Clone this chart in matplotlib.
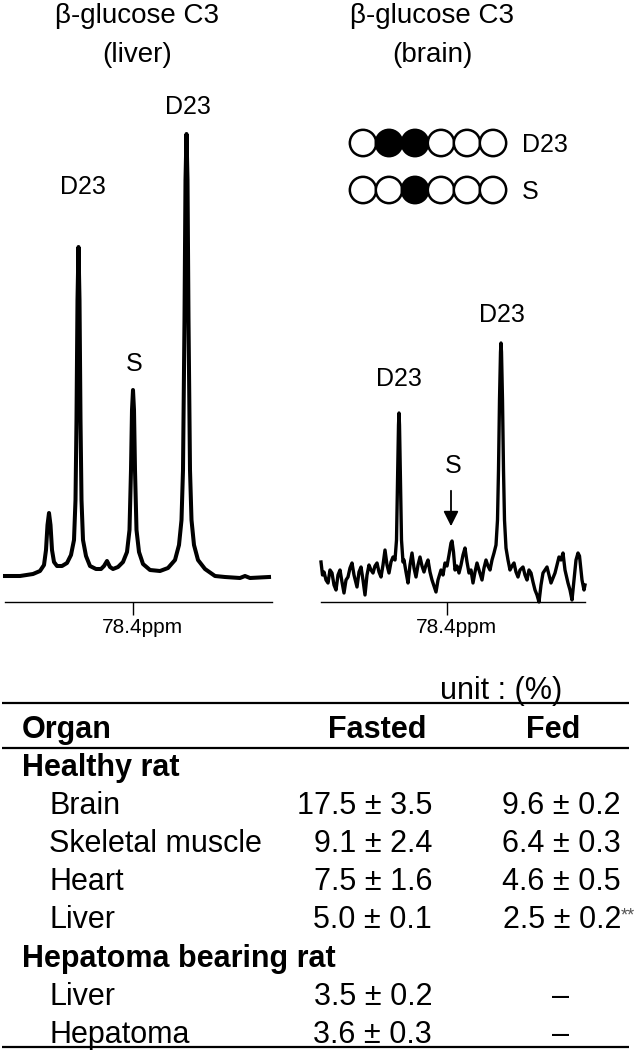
import matplotlib
matplotlib.use("Agg")
import matplotlib.pyplot as plt

plt.rcParams['font.family'] = ['Liberation Sans', 'DejaVu Sans']

# ---- spectra (shift from 78.4 ppm tick, intensity above baseline axis) ----
liver_shift = [-128, -113, -100, -93, -89, -87, -85.5, -84, -82.5, -81, -79, -76, -71, -66, -62, -59,
               -57.5, -56.5, -55.5, -54.5, -53.5, -52.5, -51.5, -50, -47, -43, -37, -32, -29, -26, -23,
               -20, -15, -10, -6, -3.5, -2, -1, 0, 1, 2, 3.5, 6, 10, 17, 27, 35, 42, 46, 48.5, 50, 51.5,
               52.5, 53.5, 54.5, 55.5, 57, 58.5, 61, 65, 72, 82, 92, 107, 112, 117, 136]
liver_int = [26, 26, 28, 31, 37, 52, 77, 89, 77, 52, 40, 36, 36, 39, 47, 62,
             102, 182, 302, 355, 302, 182, 102, 62, 46, 36, 33, 33, 36, 41, 35,
             33, 35, 40, 50, 72, 132, 192, 212, 192, 132, 72, 50, 38, 32, 31, 34, 42, 57, 82, 132, 282,
             422, 468, 422, 282, 132, 82, 57, 42, 33, 26, 25, 24, 26, 24, 25]

brain_shift = [-126, -124.5, -123, -121, -119, -117, -115, -113, -111, -109, -107, -105, -103, -101, -99,
               -97, -95, -93, -90, -88, -86, -84, -82, -80, -78, -76, -74, -72, -70, -68, -66, -64, -62,
               -60, -58, -56, -54, -52, -50.5, -49.5, -48.5, -48, -47.5, -46.5, -45.5, -44, -43, -41, -39,
               -37, -35, -33, -31, -29, -27, -25, -23, -21, -19, -17, -15, -13, -11, -9, -6, -4, -2, 0,
               2, 4, 5, 6.5, 8, 10, 12, 14, 16, 18, 20, 22, 24, 26, 28, 30, 32, 35, 37, 39, 41, 43, 45,
               47, 49, 50.5, 51.5, 52.5, 53.5, 54, 54.5, 55.5, 56.5, 57.5, 59, 61, 63, 65, 67, 69, 71,
               73, 76, 78, 80, 82, 84, 86, 88, 90, 92, 94, 96, 98, 100, 102, 104, 106, 108, 110, 112,
               114, 116, 118, 121, 123, 125, 127, 129, 131, 132.5, 135, 137, 138]
brain_int = [40, 27, 30, 22, 19, 32, 29, 17, 12, 27, 32, 20, 9, 22, 25,
             34, 39, 27, 15, 30, 35, 22, 7, 27, 37, 32, 29, 36, 39, 30, 25, 37, 52,
             37, 29, 40, 45, 42, 62, 122, 177, 189, 177, 122, 62, 40, 42, 30, 19,
             37, 49, 34, 25, 37, 45, 36, 30, 37, 42, 30, 22, 16, 10, 22, 32, 27, 39, 36,
             47, 59, 61, 50, 32, 36, 29, 37, 47, 54, 40, 29, 32, 19, 30, 39, 32, 22, 34, 42, 36, 32, 42,
             49, 57, 82, 132, 202, 250, 259, 250, 202, 132, 82, 54, 42, 32, 36, 39, 30, 25,
             32, 35, 27, 22, 32, 29, 20, 12, 7, 0, 17, 29, 32, 35, 27, 19, 24, 29, 37, 45,
             42, 49, 32, 19, 12, 2, 22, 42, 49, 46, 22, 12, 17]

tick_label = "78.4ppm"
titles = [("β-glucose C3", "(liver)"), ("β-glucose C3", "(brain)")]
liver_labels = [("D23", -50, 408), ("D23", 55, 488), ("S", 1, 231)]
brain_labels = [("D23", -48, 216), ("D23", 55, 280), ("S", 6, 129)]

# labelling pattern (filled = 13C)
pattern_names = ["D23", "S"]
pattern_fill = [[0, 1, 1, 0, 0, 0], [0, 0, 1, 0, 0, 0]]

# ---- table ----
group_names = ["Healthy rat", "Hepatoma bearing rat"]
organ_names = ["Brain", "Skeletal muscle", "Heart", "Liver", "Liver", "Hepatoma"]
organ_group = [0, 0, 0, 0, 1, 1]
fasted_mean = [17.5, 9.1, 7.5, 5.0, 3.5, 3.6]
fasted_sd = [3.5, 2.4, 1.6, 0.1, 0.2, 0.3]
fed_mean = [9.6, 6.4, 4.6, 2.5, None, None]
fed_sd = [0.2, 0.3, 0.5, 0.2, None, None]
fed_mark = ["", "", "", "**", "", ""]

W, H = 642, 1050
fig = plt.figure(figsize=(W / 100, H / 100), dpi=100)
over = fig.add_axes([0, 0, 1, 1])
over.set_xlim(0, W)
over.set_ylim(H, 0)
over.axis("off")

base_px = 602
top_px = 90


def spec_axes(x0, x1, tick_px):
    ax = fig.add_axes([x0 / W, (H - base_px) / H, (x1 - x0) / W, (base_px - top_px) / H])
    ax.set_xlim(x0 - tick_px, x1 - tick_px)
    ax.set_ylim(0, base_px - top_px)
    for s in ["left", "right", "top"]:
        ax.spines[s].set_visible(False)
    ax.spines["bottom"].set_linewidth(1.0)
    ax.set_yticks([])
    ax.set_xticks([0])
    ax.set_xticklabels([])
    ax.tick_params(axis="x", direction="out", length=9.5, width=1.0)
    ax.annotate(tick_label, xy=(0, 0), xycoords=("data", "axes fraction"),
                xytext=(7, -22.5), textcoords="offset points",
                fontsize=15, ha="center", va="baseline")
    ax.patch.set_alpha(0)
    return ax


ax1 = spec_axes(5, 272, 133)
ax1.plot(liver_shift, liver_int, color="black", lw=2.9, solid_joinstyle="round", clip_on=False)
for txt, x, y in liver_labels:
    ax1.text(x, y, txt, fontsize=18, ha="center", va="baseline")

ax2 = spec_axes(321, 585, 447)
ax2.plot(brain_shift, brain_int, color="black", lw=2.4, solid_joinstyle="round", clip_on=False)
for txt, x, y in brain_labels:
    ax2.text(x, y, txt, fontsize=18, ha="center", va="baseline")
ax2.annotate("", xy=(4, 73), xytext=(4, 114),
             arrowprops=dict(arrowstyle="-|>,head_length=0.9,head_width=0.45", color="black", lw=1.3))

# titles
for (l1, l2), cx in zip(titles, [137, 432]):
    over.text(cx, 23, l1, fontsize=20, ha="center", va="baseline")
    over.text(cx, 62, l2, fontsize=20, ha="center", va="baseline")

# circles
for r, (name, fills) in enumerate(zip(pattern_names, pattern_fill)):
    cy = 143 + r * 47
    xs = [363 + i * 26 for i in range(len(fills))]
    cols = ["black" if f else "white" for f in fills]
    over.scatter(xs, [cy] * len(xs), s=360, c=cols, edgecolors="black", linewidths=1.8, zorder=3)
    over.text(522, cy + 9, name, fontsize=18, ha="left", va="baseline")

# table
fs = 22
off = 11
over.text(440, 688 + off, "unit : (%)", fontsize=fs, ha="left", va="baseline")
for y in [703, 748, 1047]:
    over.plot([2, 629], [y, y], color="black", lw=1.6, solid_capstyle="butt")
over.text(22, 727 + off, "Organ", fontsize=fs, fontweight="bold", va="baseline")
over.text(377, 727 + off, "Fasted", fontsize=fs, fontweight="bold", ha="center", va="baseline")
over.text(553, 727 + off, "Fed", fontsize=fs, fontweight="bold", ha="center", va="baseline")

row_y0 = 765
row_dy = 38.1
k = 0
prev_group = None
for i, name in enumerate(organ_names):
    g = organ_group[i]
    if g != prev_group:
        over.text(22, row_y0 + k * row_dy + off, group_names[g], fontsize=fs,
                  fontweight="bold", va="baseline")
        k += 1
        prev_group = g
    y = row_y0 + k * row_dy + off
    over.text(49, y, name, fontsize=fs, va="baseline")
    over.text(432, y, f"{fasted_mean[i]:.1f} ± {fasted_sd[i]:.1f}", fontsize=fs,
              ha="right", va="baseline")
    if fed_mean[i] is None:
        over.text(561, y, "–", fontsize=fs, ha="center", va="baseline")
    else:
        over.text(621, y, f"{fed_mean[i]:.1f} ± {fed_sd[i]:.1f}", fontsize=fs,
                  ha="right", va="baseline")
        if fed_mark[i]:
            over.text(621, y - 8, fed_mark[i], fontsize=13, color="#555555",
                      ha="left", va="baseline")
    k += 1

fig.savefig("out.png", dpi=100)
